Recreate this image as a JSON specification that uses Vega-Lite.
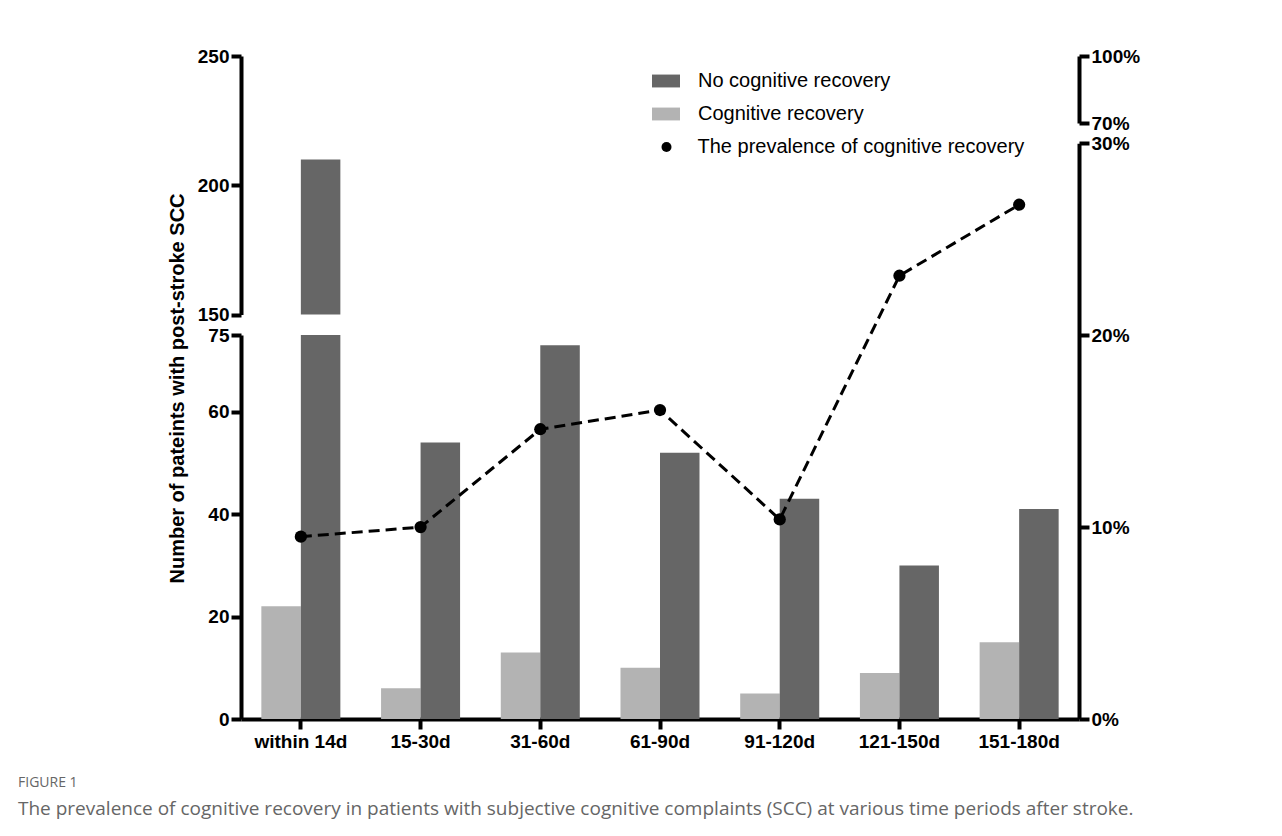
{
  "$schema": "https://vega.github.io/schema/vega-lite/v6.json",
  "autosize": {"type": "none"},
  "width": 838,
  "height": 663,
  "padding": {"left": 241, "top": 56, "right": 203, "bottom": 117},
  "background": "white",
  "title": {
    "text": "FIGURE 1",
    "subtitle": "The prevalence of cognitive recovery in patients with subjective cognitive complaints (SCC) at various time periods after stroke.",
    "orient": "bottom",
    "anchor": "start",
    "frame": "group",
    "dx": -223,
    "offset": 25,
    "font": "Open Sans",
    "fontSize": 14,
    "fontWeight": "normal",
    "color": "#666666",
    "subtitleFont": "Open Sans",
    "subtitleFontSize": 19,
    "subtitleColor": "#666666",
    "subtitlePadding": 10,
    "limit": 0
  },
  "datasets": {
    "bars": [
      {"period": "within 14d", "group": "Cognitive recovery", "value": 22},
      {"period": "within 14d", "group": "No cognitive recovery", "value": 210},
      {"period": "15-30d", "group": "Cognitive recovery", "value": 6},
      {"period": "15-30d", "group": "No cognitive recovery", "value": 54},
      {"period": "31-60d", "group": "Cognitive recovery", "value": 13},
      {"period": "31-60d", "group": "No cognitive recovery", "value": 73},
      {"period": "61-90d", "group": "Cognitive recovery", "value": 10},
      {"period": "61-90d", "group": "No cognitive recovery", "value": 52},
      {"period": "91-120d", "group": "Cognitive recovery", "value": 5},
      {"period": "91-120d", "group": "No cognitive recovery", "value": 43},
      {"period": "121-150d", "group": "Cognitive recovery", "value": 9},
      {"period": "121-150d", "group": "No cognitive recovery", "value": 30},
      {"period": "151-180d", "group": "Cognitive recovery", "value": 15},
      {"period": "151-180d", "group": "No cognitive recovery", "value": 41}
    ],
    "prev": [
      {"period": "within 14d", "prevalence": 9.5},
      {"period": "15-30d", "prevalence": 10.0},
      {"period": "31-60d", "prevalence": 15.1},
      {"period": "61-90d", "prevalence": 16.1},
      {"period": "91-120d", "prevalence": 10.4},
      {"period": "121-150d", "prevalence": 23.1},
      {"period": "151-180d", "prevalence": 26.8}
    ]
  },
  "config": {
    "view": {"stroke": null},
    "axis": {
      "domainColor": "black",
      "domainWidth": 4,
      "tickColor": "black",
      "tickWidth": 4,
      "tickSize": 10,
      "labelFont": "Liberation Sans",
      "labelFontWeight": "bold",
      "labelFontSize": 19,
      "labelColor": "black",
      "labelPadding": 2,
      "grid": false,
      "titleFont": "Liberation Sans",
      "titleFontWeight": "bold",
      "titleFontSize": 20,
      "titleColor": "black"
    },
    "legend": {
      "labelFont": "Liberation Sans",
      "labelFontSize": 20,
      "labelColor": "black",
      "labelLimit": 0,
      "padding": 0
    }
  },
  "resolve": {"scale": {"y": "independent"}, "axis": {"y": "independent"}},
  "layer": [
    {
      "data": {"name": "bars"},
      "mark": {"type": "bar"},
      "encoding": {
        "x": {
          "field": "period", "type": "nominal",
          "sort": ["within 14d", "15-30d", "31-60d", "61-90d", "91-120d", "121-150d", "151-180d"],
          "scale": {"type": "band", "paddingInner": 0.34, "paddingOuter": 0.17},
          "axis": {"title": null, "labelAngle": 0, "orient": "bottom", "labelPadding": 3}
        },
        "xOffset": {
          "field": "group", "type": "nominal",
          "scale": {"domain": ["Cognitive recovery", "No cognitive recovery"], "paddingInner": 0, "paddingOuter": 0}
        },
        "y": {
          "field": "value", "type": "quantitative",
          "scale": {"domain": [0, 75], "range": [663, 279], "clamp": true, "nice": false, "zero": true},
          "axis": {
            "orient": "left",
            "values": [0, 20, 40, 60, 75],
            "title": "Number of pateints with post-stroke SCC",
            "titleX": -54,
            "titleY": 332,
            "titleAngle": 270,
            "titleBaseline": "bottom",
            "titleAlign": "center"
          }
        },
        "fill": {
          "field": "group", "type": "nominal",
          "scale": {"domain": ["No cognitive recovery", "Cognitive recovery"], "range": ["#666666", "#b3b3b3"]},
          "legend": {
            "title": null,
            "orient": "none",
            "legendX": 411,
            "legendY": 11,
            "symbolType": "M-1,-0.46H1V0.46H-1Z",
            "symbolSize": 784,
            "symbolStrokeWidth": 0,
            "labelOffset": 18,
            "rowPadding": 9
          }
        }
      }
    },
    {
      "data": {"name": "bars"},
      "transform": [{"filter": "datum.value > 150"}],
      "mark": {"type": "bar"},
      "encoding": {
        "x": {
          "field": "period", "type": "nominal",
          "sort": ["within 14d", "15-30d", "31-60d", "61-90d", "91-120d", "121-150d", "151-180d"],
          "scale": {"type": "band", "paddingInner": 0.34, "paddingOuter": 0.17}
        },
        "xOffset": {
          "field": "group", "type": "nominal",
          "scale": {"domain": ["Cognitive recovery", "No cognitive recovery"], "paddingInner": 0, "paddingOuter": 0}
        },
        "y": {
          "field": "value", "type": "quantitative",
          "scale": {"domain": [150, 250], "range": [258.5, 0], "clamp": true, "nice": false, "zero": false},
          "axis": {"orient": "left", "values": [150, 200, 250], "title": null}
        },
        "y2": {"datum": 150},
        "fill": {"field": "group", "type": "nominal"}
      }
    },
    {
      "data": {"name": "prev"},
      "mark": {"type": "line", "color": "black", "strokeWidth": 3, "strokeDash": [11, 6]},
      "encoding": {
        "x": {
          "field": "period", "type": "nominal",
          "sort": ["within 14d", "15-30d", "31-60d", "61-90d", "91-120d", "121-150d", "151-180d"],
          "scale": {"type": "band", "paddingInner": 0.34, "paddingOuter": 0.17}
        },
        "y": {
          "field": "prevalence", "type": "quantitative",
          "scale": {"domain": [0, 30], "range": [663, 87.3], "nice": false, "zero": true},
          "axis": {"orient": "right", "values": [0, 10, 20, 30], "labelExpr": "datum.value + '%'", "title": null}
        }
      }
    },
    {
      "data": {"name": "prev"},
      "mark": {"type": "point", "filled": true, "color": "black", "size": 150, "opacity": 1},
      "encoding": {
        "x": {
          "field": "period", "type": "nominal",
          "sort": ["within 14d", "15-30d", "31-60d", "61-90d", "91-120d", "121-150d", "151-180d"],
          "scale": {"type": "band", "paddingInner": 0.34, "paddingOuter": 0.17}
        },
        "y": {
          "field": "prevalence", "type": "quantitative",
          "scale": {"domain": [0, 30], "range": [663, 87.3], "nice": false, "zero": true},
          "axis": null
        },
        "shape": {
          "datum": "The prevalence of cognitive recovery",
          "type": "nominal",
          "scale": {"range": ["circle"]},
          "legend": {
            "title": null,
            "orient": "none",
            "legendX": 415.5,
            "legendY": 81,
            "symbolSize": 100,
            "symbolFillColor": "black",
            "symbolStrokeColor": "black",
            "symbolStrokeWidth": 0,
            "labelOffset": 21
          }
        }
      }
    },
    {
      "data": {"name": "prev"},
      "mark": {"type": "point", "opacity": 0},
      "encoding": {
        "x": {
          "field": "period", "type": "nominal",
          "sort": ["within 14d", "15-30d", "31-60d", "61-90d", "91-120d", "121-150d", "151-180d"],
          "scale": {"type": "band", "paddingInner": 0.34, "paddingOuter": 0.17}
        },
        "y": {
          "field": "prevalence", "type": "quantitative",
          "scale": {"domain": [70, 100], "range": [67, 0], "clamp": true, "nice": false, "zero": false},
          "axis": {"orient": "right", "values": [70, 100], "labelExpr": "datum.value + '%'", "title": null}
        }
      }
    }
  ]
}
